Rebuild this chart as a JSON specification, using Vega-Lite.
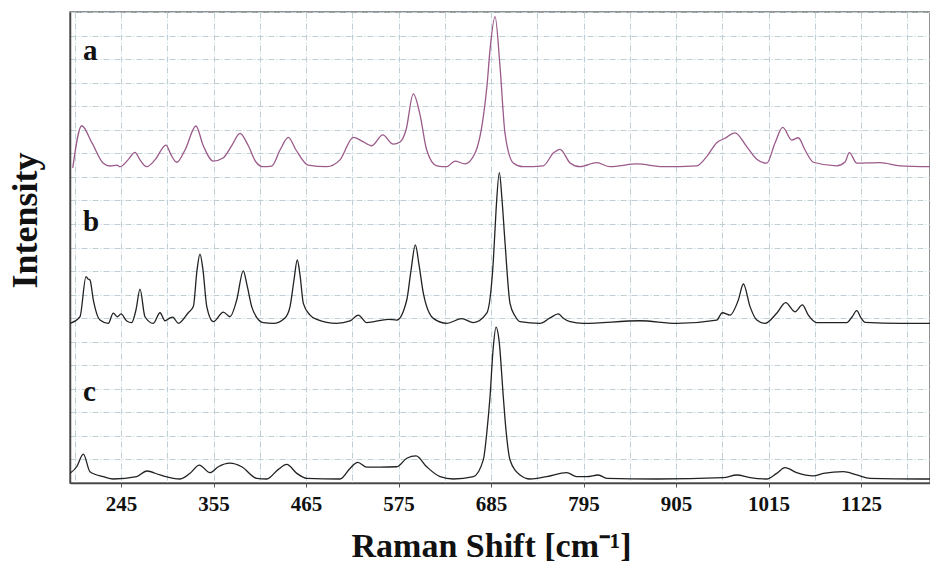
{
  "$schema": "https://vega.github.io/schema/vega-lite/v6.json",
  "width": 860,
  "height": 471,
  "autosize": {"type": "none"},
  "padding": {"left": 70, "top": 12, "right": 0, "bottom": 79},
  "background": "white",
  "config": {
    "font": "Liberation Serif",
    "view": {"stroke": "#6e6e6e", "strokeWidth": 1.5}
  },
  "datasets": {
    "spectra": [
      {"series": "a", "shift": 187.6, "intensity": 13.38},
      {"series": "a", "shift": 198.3, "intensity": 15.17},
      {"series": "a", "shift": 210.5, "intensity": 14.44},
      {"series": "a", "shift": 223.6, "intensity": 13.59},
      {"series": "a", "shift": 231.9, "intensity": 13.46},
      {"series": "a", "shift": 240.2, "intensity": 13.5},
      {"series": "a", "shift": 243.8, "intensity": 13.43},
      {"series": "a", "shift": 253.3, "intensity": 13.72},
      {"series": "a", "shift": 261.6, "intensity": 14.04},
      {"series": "a", "shift": 267.6, "intensity": 13.72},
      {"series": "a", "shift": 275.6, "intensity": 13.43},
      {"series": "a", "shift": 285.4, "intensity": 13.72},
      {"series": "a", "shift": 298.5, "intensity": 14.35},
      {"series": "a", "shift": 304.5, "intensity": 13.93},
      {"series": "a", "shift": 311.2, "intensity": 13.62},
      {"series": "a", "shift": 321.1, "intensity": 14.14},
      {"series": "a", "shift": 334.2, "intensity": 15.16},
      {"series": "a", "shift": 342.5, "intensity": 14.35},
      {"series": "a", "shift": 354.8, "intensity": 13.67},
      {"series": "a", "shift": 366.3, "intensity": 13.8},
      {"series": "a", "shift": 377.0, "intensity": 14.35},
      {"series": "a", "shift": 386.5, "intensity": 14.85},
      {"series": "a", "shift": 396.0, "intensity": 14.35},
      {"series": "a", "shift": 405.5, "intensity": 13.63},
      {"series": "a", "shift": 413.9, "intensity": 13.43},
      {"series": "a", "shift": 424.2, "intensity": 13.46},
      {"series": "a", "shift": 434.1, "intensity": 14.14},
      {"series": "a", "shift": 444.0, "intensity": 14.68},
      {"series": "a", "shift": 453.1, "intensity": 14.14},
      {"series": "a", "shift": 467.4, "intensity": 13.5},
      {"series": "a", "shift": 489.6, "intensity": 13.43},
      {"series": "a", "shift": 505.4, "intensity": 13.72},
      {"series": "a", "shift": 521.3, "intensity": 14.68},
      {"series": "a", "shift": 531.6, "intensity": 14.52},
      {"series": "a", "shift": 543.1, "intensity": 14.32},
      {"series": "a", "shift": 556.2, "intensity": 14.78},
      {"series": "a", "shift": 568.8, "intensity": 14.39},
      {"series": "a", "shift": 576.8, "intensity": 14.48},
      {"series": "a", "shift": 583.9, "intensity": 14.99},
      {"series": "a", "shift": 592.6, "intensity": 16.52},
      {"series": "a", "shift": 600.6, "intensity": 15.63},
      {"series": "a", "shift": 608.5, "intensity": 14.14},
      {"series": "a", "shift": 620.4, "intensity": 13.47},
      {"series": "a", "shift": 632.3, "intensity": 13.43},
      {"series": "a", "shift": 642.2, "intensity": 13.67},
      {"series": "a", "shift": 654.1, "intensity": 13.55},
      {"series": "a", "shift": 666.0, "intensity": 14.01},
      {"series": "a", "shift": 675.8, "intensity": 15.55},
      {"series": "a", "shift": 680.3, "intensity": 16.9},
      {"series": "a", "shift": 683.8, "intensity": 18.39},
      {"series": "a", "shift": 689.8, "intensity": 19.8},
      {"series": "a", "shift": 695.7, "intensity": 17.68},
      {"series": "a", "shift": 701.6, "intensity": 14.86},
      {"series": "a", "shift": 711.5, "intensity": 13.59},
      {"series": "a", "shift": 723.2, "intensity": 13.43},
      {"series": "a", "shift": 747.2, "intensity": 13.47},
      {"series": "a", "shift": 759.1, "intensity": 14.01},
      {"series": "a", "shift": 767.1, "intensity": 14.17},
      {"series": "a", "shift": 779.0, "intensity": 13.59},
      {"series": "a", "shift": 790.8, "intensity": 13.43},
      {"series": "a", "shift": 810.7, "intensity": 13.6},
      {"series": "a", "shift": 826.5, "intensity": 13.43},
      {"series": "a", "shift": 858.3, "intensity": 13.55},
      {"series": "a", "shift": 889.9, "intensity": 13.43},
      {"series": "a", "shift": 929.6, "intensity": 13.47},
      {"series": "a", "shift": 941.5, "intensity": 13.86},
      {"series": "a", "shift": 953.4, "intensity": 14.45},
      {"series": "a", "shift": 963.3, "intensity": 14.64},
      {"series": "a", "shift": 975.2, "intensity": 14.87},
      {"series": "a", "shift": 989.1, "intensity": 14.28},
      {"series": "a", "shift": 1001.0, "intensity": 13.75},
      {"series": "a", "shift": 1012.9, "intensity": 13.58},
      {"series": "a", "shift": 1022.7, "intensity": 14.44},
      {"series": "a", "shift": 1031.9, "intensity": 15.1},
      {"series": "a", "shift": 1042.6, "intensity": 14.56},
      {"series": "a", "shift": 1050.4, "intensity": 14.66},
      {"series": "a", "shift": 1058.4, "intensity": 14.14},
      {"series": "a", "shift": 1068.3, "intensity": 13.62},
      {"series": "a", "shift": 1096.1, "intensity": 13.47},
      {"series": "a", "shift": 1106.0, "intensity": 13.63},
      {"series": "a", "shift": 1111.1, "intensity": 14.03},
      {"series": "a", "shift": 1119.9, "intensity": 13.58},
      {"series": "a", "shift": 1147.6, "intensity": 13.6},
      {"series": "a", "shift": 1171.4, "intensity": 13.47},
      {"series": "a", "shift": 1207.0, "intensity": 13.43},
      {"series": "b", "shift": 184.4, "intensity": 6.78},
      {"series": "b", "shift": 196.2, "intensity": 7.06},
      {"series": "b", "shift": 203.4, "intensity": 8.76},
      {"series": "b", "shift": 205.8, "intensity": 8.66},
      {"series": "b", "shift": 208.1, "intensity": 8.62},
      {"series": "b", "shift": 212.1, "intensity": 7.77},
      {"series": "b", "shift": 220.0, "intensity": 6.92},
      {"series": "b", "shift": 229.9, "intensity": 6.78},
      {"series": "b", "shift": 235.8, "intensity": 7.21},
      {"series": "b", "shift": 240.6, "intensity": 7.06},
      {"series": "b", "shift": 245.0, "intensity": 7.18},
      {"series": "b", "shift": 251.8, "intensity": 6.88},
      {"series": "b", "shift": 257.7, "intensity": 6.81},
      {"series": "b", "shift": 262.8, "intensity": 7.35},
      {"series": "b", "shift": 267.6, "intensity": 8.23},
      {"series": "b", "shift": 273.5, "intensity": 7.06},
      {"series": "b", "shift": 283.4, "intensity": 6.78},
      {"series": "b", "shift": 291.4, "intensity": 7.23},
      {"series": "b", "shift": 297.3, "intensity": 6.89},
      {"series": "b", "shift": 303.3, "intensity": 7.01},
      {"series": "b", "shift": 306.5, "intensity": 7.04},
      {"series": "b", "shift": 313.2, "intensity": 6.78},
      {"series": "b", "shift": 325.0, "intensity": 7.23},
      {"series": "b", "shift": 331.0, "intensity": 7.49},
      {"series": "b", "shift": 335.4, "intensity": 9.04},
      {"series": "b", "shift": 338.9, "intensity": 9.72},
      {"series": "b", "shift": 342.5, "intensity": 9.04},
      {"series": "b", "shift": 347.0, "intensity": 7.49},
      {"series": "b", "shift": 354.8, "intensity": 6.85},
      {"series": "b", "shift": 366.7, "intensity": 7.26},
      {"series": "b", "shift": 374.6, "intensity": 7.06},
      {"series": "b", "shift": 382.6, "intensity": 7.77},
      {"series": "b", "shift": 390.4, "intensity": 9.01},
      {"series": "b", "shift": 394.8, "intensity": 8.41},
      {"series": "b", "shift": 400.4, "intensity": 7.49},
      {"series": "b", "shift": 406.7, "intensity": 7.01},
      {"series": "b", "shift": 414.2, "intensity": 6.81},
      {"series": "b", "shift": 426.1, "intensity": 6.78},
      {"series": "b", "shift": 440.0, "intensity": 7.01},
      {"series": "b", "shift": 446.0, "intensity": 7.49},
      {"series": "b", "shift": 450.7, "intensity": 8.62},
      {"series": "b", "shift": 454.6, "intensity": 9.47},
      {"series": "b", "shift": 457.9, "intensity": 8.83},
      {"series": "b", "shift": 461.8, "intensity": 7.63},
      {"series": "b", "shift": 469.8, "intensity": 7.13},
      {"series": "b", "shift": 477.7, "intensity": 6.95},
      {"series": "b", "shift": 501.5, "intensity": 6.78},
      {"series": "b", "shift": 517.3, "intensity": 6.88},
      {"series": "b", "shift": 527.2, "intensity": 7.13},
      {"series": "b", "shift": 537.2, "intensity": 6.81},
      {"series": "b", "shift": 562.9, "intensity": 6.95},
      {"series": "b", "shift": 572.9, "intensity": 6.92},
      {"series": "b", "shift": 584.8, "intensity": 7.77},
      {"series": "b", "shift": 589.9, "intensity": 9.04},
      {"series": "b", "shift": 595.0, "intensity": 10.11},
      {"series": "b", "shift": 599.4, "intensity": 9.26},
      {"series": "b", "shift": 604.5, "intensity": 8.06},
      {"series": "b", "shift": 616.4, "intensity": 6.99},
      {"series": "b", "shift": 632.3, "intensity": 6.78},
      {"series": "b", "shift": 650.2, "intensity": 6.98},
      {"series": "b", "shift": 664.0, "intensity": 6.81},
      {"series": "b", "shift": 679.9, "intensity": 7.21},
      {"series": "b", "shift": 687.8, "intensity": 9.47},
      {"series": "b", "shift": 691.0, "intensity": 11.59},
      {"series": "b", "shift": 694.9, "intensity": 13.18},
      {"series": "b", "shift": 698.1, "intensity": 12.02},
      {"series": "b", "shift": 701.7, "intensity": 10.18},
      {"series": "b", "shift": 707.6, "intensity": 7.63},
      {"series": "b", "shift": 713.6, "intensity": 7.09},
      {"series": "b", "shift": 719.5, "intensity": 6.85},
      {"series": "b", "shift": 743.3, "intensity": 6.78},
      {"series": "b", "shift": 755.2, "intensity": 7.01},
      {"series": "b", "shift": 765.0, "intensity": 7.18},
      {"series": "b", "shift": 770.6, "intensity": 7.01},
      {"series": "b", "shift": 779.0, "intensity": 6.85},
      {"series": "b", "shift": 794.8, "intensity": 6.78},
      {"series": "b", "shift": 862.2, "intensity": 6.89},
      {"series": "b", "shift": 905.8, "intensity": 6.78},
      {"series": "b", "shift": 953.4, "intensity": 6.92},
      {"series": "b", "shift": 960.1, "intensity": 7.23},
      {"series": "b", "shift": 969.2, "intensity": 7.13},
      {"series": "b", "shift": 979.1, "intensity": 7.77},
      {"series": "b", "shift": 985.1, "intensity": 8.45},
      {"series": "b", "shift": 993.0, "intensity": 7.49},
      {"series": "b", "shift": 1001.0, "intensity": 6.92},
      {"series": "b", "shift": 1010.8, "intensity": 6.78},
      {"series": "b", "shift": 1024.7, "intensity": 7.21},
      {"series": "b", "shift": 1035.4, "intensity": 7.66},
      {"series": "b", "shift": 1046.5, "intensity": 7.27},
      {"series": "b", "shift": 1055.2, "intensity": 7.56},
      {"series": "b", "shift": 1062.3, "intensity": 7.13},
      {"series": "b", "shift": 1072.3, "intensity": 6.81},
      {"series": "b", "shift": 1108.0, "intensity": 6.81},
      {"series": "b", "shift": 1114.3, "intensity": 7.05},
      {"series": "b", "shift": 1119.9, "intensity": 7.32},
      {"series": "b", "shift": 1125.0, "intensity": 7.01},
      {"series": "b", "shift": 1129.8, "intensity": 6.82},
      {"series": "b", "shift": 1171.4, "intensity": 6.78},
      {"series": "b", "shift": 1207.0, "intensity": 6.78},
      {"series": "c", "shift": 184.4, "intensity": 0.41},
      {"series": "c", "shift": 192.3, "intensity": 0.69},
      {"series": "c", "shift": 200.2, "intensity": 1.23},
      {"series": "c", "shift": 208.1, "intensity": 0.48},
      {"series": "c", "shift": 224.0, "intensity": 0.27},
      {"series": "c", "shift": 235.8, "intensity": 0.17},
      {"series": "c", "shift": 263.7, "intensity": 0.27},
      {"series": "c", "shift": 275.6, "intensity": 0.51},
      {"series": "c", "shift": 291.4, "intensity": 0.34},
      {"series": "c", "shift": 315.2, "intensity": 0.17},
      {"series": "c", "shift": 327.1, "intensity": 0.41},
      {"series": "c", "shift": 338.1, "intensity": 0.76},
      {"series": "c", "shift": 350.8, "intensity": 0.44},
      {"series": "c", "shift": 360.7, "intensity": 0.69},
      {"series": "c", "shift": 374.6, "intensity": 0.84},
      {"series": "c", "shift": 388.5, "intensity": 0.69},
      {"series": "c", "shift": 406.4, "intensity": 0.2},
      {"series": "c", "shift": 418.3, "intensity": 0.17},
      {"series": "c", "shift": 432.1, "intensity": 0.58},
      {"series": "c", "shift": 442.1, "intensity": 0.79},
      {"series": "c", "shift": 454.0, "intensity": 0.41},
      {"series": "c", "shift": 465.8, "intensity": 0.2},
      {"series": "c", "shift": 505.4, "intensity": 0.17},
      {"series": "c", "shift": 517.3, "intensity": 0.62},
      {"series": "c", "shift": 526.5, "intensity": 0.88},
      {"series": "c", "shift": 537.2, "intensity": 0.67},
      {"series": "c", "shift": 553.0, "intensity": 0.67},
      {"series": "c", "shift": 572.9, "intensity": 0.69},
      {"series": "c", "shift": 584.8, "intensity": 1.05},
      {"series": "c", "shift": 595.8, "intensity": 1.15},
      {"series": "c", "shift": 608.5, "intensity": 0.69},
      {"series": "c", "shift": 624.4, "intensity": 0.27},
      {"series": "c", "shift": 640.2, "intensity": 0.17},
      {"series": "c", "shift": 664.0, "intensity": 0.27},
      {"series": "c", "shift": 675.8, "intensity": 0.98},
      {"series": "c", "shift": 680.3, "intensity": 2.25},
      {"series": "c", "shift": 683.8, "intensity": 3.66},
      {"series": "c", "shift": 687.4, "intensity": 5.65},
      {"series": "c", "shift": 691.0, "intensity": 6.62},
      {"series": "c", "shift": 694.5, "intensity": 6.07},
      {"series": "c", "shift": 699.6, "intensity": 3.66},
      {"series": "c", "shift": 702.8, "intensity": 2.25},
      {"series": "c", "shift": 707.6, "intensity": 0.98},
      {"series": "c", "shift": 719.5, "intensity": 0.34},
      {"series": "c", "shift": 731.4, "intensity": 0.17},
      {"series": "c", "shift": 751.2, "intensity": 0.27},
      {"series": "c", "shift": 775.0, "intensity": 0.44},
      {"series": "c", "shift": 786.9, "intensity": 0.27},
      {"series": "c", "shift": 798.8, "intensity": 0.27},
      {"series": "c", "shift": 812.6, "intensity": 0.34},
      {"series": "c", "shift": 822.6, "intensity": 0.2},
      {"series": "c", "shift": 882.0, "intensity": 0.17},
      {"series": "c", "shift": 961.3, "intensity": 0.23},
      {"series": "c", "shift": 977.2, "intensity": 0.34},
      {"series": "c", "shift": 993.0, "intensity": 0.23},
      {"series": "c", "shift": 1012.9, "intensity": 0.17},
      {"series": "c", "shift": 1024.7, "intensity": 0.41},
      {"series": "c", "shift": 1034.6, "intensity": 0.65},
      {"series": "c", "shift": 1048.5, "intensity": 0.44},
      {"series": "c", "shift": 1068.3, "intensity": 0.3},
      {"series": "c", "shift": 1080.2, "intensity": 0.41},
      {"series": "c", "shift": 1104.0, "intensity": 0.48},
      {"series": "c", "shift": 1119.9, "intensity": 0.34},
      {"series": "c", "shift": 1135.7, "intensity": 0.2},
      {"series": "c", "shift": 1207.0, "intensity": 0.17}
    ],
    "tags": [
      {"series": "a", "shift": 199.8, "intensity": 17.96},
      {"series": "b", "shift": 199.8, "intensity": 10.7},
      {"series": "c", "shift": 199.8, "intensity": 3.48}
    ]
  },
  "layer": [
    {
      "data": {"name": "spectra"},
      "mark": {"type": "line", "interpolate": "monotone", "strokeWidth": 1.3, "clip": true},
      "encoding": {
        "x": {
          "field": "shift",
          "type": "quantitative",
          "title": "Raman Shift [cm⁻¹]",
          "scale": {"domain": [184.35, 1207], "nice": false, "zero": false},
          "axis": {
            "values": [190, 245, 300, 355, 410, 465, 520, 575, 630, 685, 740, 795, 850, 905, 960, 1015, 1070, 1125, 1180],
            "tickCount": 40,
            "format": "d",
            "labelExpr": "(datum.value - 245) % 110 == 0 ? datum.label : ''",
            "labelFont": "Liberation Serif",
            "labelFontWeight": "bold",
            "labelFontSize": 21,
            "labelColor": "#111",
            "labelPadding": 6,
            "tickSize": 4,
            "tickColor": "#555",
            "tickOpacity": {"condition": {"test": "(datum.value - 245) % 110 == 0", "value": 1}, "value": 0},
            "domainColor": "#444",
            "domainWidth": 1.5,
            "grid": true,
            "gridColor": "#bfcfd6",
            "gridDash": [6, 2, 1, 2],
            "gridWidth": 1,
            "titleFont": "Liberation Serif",
            "titleFontWeight": "bold",
            "titleFontSize": 34,
            "titleColor": "#111",
            "titleX": 421,
            "titleY": 73,
            "titleAlign": "center",
            "titleBaseline": "alphabetic"
          }
        },
        "y": {
          "field": "intensity",
          "type": "quantitative",
          "title": "Intensity",
          "scale": {"domain": [0, 20], "nice": false},
          "axis": {
            "values": [0, 1, 2, 3, 4, 5, 6, 7, 8, 9, 10, 11, 12, 13, 14, 15, 16, 17, 18, 19, 20],
            "tickCount": 40,
            "labels": false,
            "ticks": false,
            "domainColor": "#444",
            "domainWidth": 1.5,
            "grid": true,
            "gridColor": "#bfcfd6",
            "gridDash": [6, 2, 1, 2],
            "gridWidth": 1,
            "titleFont": "Liberation Serif",
            "titleFontWeight": "bold",
            "titleFontSize": 36,
            "titleColor": "#111",
            "titleAngle": -90,
            "titleX": -45,
            "titleY": 208,
            "titleAlign": "center",
            "titleBaseline": "middle"
          }
        },
        "color": {
          "field": "series",
          "type": "nominal",
          "scale": {"domain": ["a", "b", "c"], "range": ["#9a5a8a", "#222222", "#222222"]},
          "legend": null
        }
      }
    },
    {
      "data": {"name": "tags"},
      "mark": {"type": "text", "align": "left", "baseline": "alphabetic", "font": "Liberation Serif", "fontWeight": "bold", "fontSize": 29, "color": "#111"},
      "encoding": {
        "x": {"field": "shift", "type": "quantitative"},
        "y": {"field": "intensity", "type": "quantitative"},
        "text": {"field": "series"}
      }
    }
  ]
}
